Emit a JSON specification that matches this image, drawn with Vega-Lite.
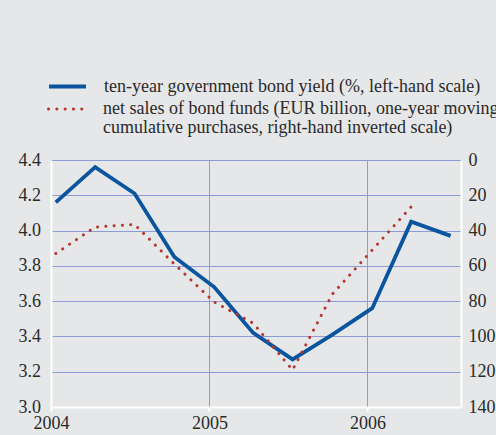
{
  "$schema": "https://vega.github.io/schema/vega-lite/v6.json",
  "width": 410,
  "height": 247,
  "autosize": {"type": "none"},
  "padding": {"left": 51, "top": 160, "right": 35, "bottom": 28},
  "background": "#e6e7e8",
  "config": {
    "view": {"stroke": null},
    "font": "Liberation Serif",
    "axis": {
      "labelFont": "Liberation Serif",
      "labelFontSize": 18,
      "labelColor": "#2a2a2a",
      "domainColor": "#ffffff",
      "domainWidth": 2,
      "gridColor": "#8d9bd6",
      "gridWidth": 1,
      "gridOpacity": 1,
      "ticks": false,
      "tickSize": 0,
      "title": null
    },
    "legend": {
      "labelFont": "Liberation Serif",
      "labelFontSize": 18,
      "labelColor": "#2a2a2a",
      "symbolType": "stroke",
      "symbolSize": 1369,
      "labelOffset": 16,
      "labelLimit": 1000,
      "title": null,
      "orient": "none"
    }
  },
  "data": {
    "values": [
      {"date": "2004-01-12", "yield": 4.16, "sales": 53},
      {"date": "2004-04-12", "yield": 4.36, "sales": 38},
      {"date": "2004-07-12", "yield": 4.21, "sales": 36.5},
      {"date": "2004-10-12", "yield": 3.85, "sales": 59},
      {"date": "2005-01-12", "yield": 3.68, "sales": 80.5},
      {"date": "2005-04-12", "yield": 3.42, "sales": 92.5},
      {"date": "2005-07-12", "yield": 3.27, "sales": 119},
      {"date": "2005-10-12", "yield": 3.41, "sales": 76},
      {"date": "2006-01-12", "yield": 3.56, "sales": 51},
      {"date": "2006-04-12", "yield": 4.05, "sales": 26.5},
      {"date": "2006-07-12", "yield": 3.97, "sales": null}
    ]
  },
  "encoding": {
    "x": {
      "field": "date",
      "type": "temporal",
      "scale": {"domain": ["2004-01-01", "2006-08-05"]},
      "axis": {
        "format": "%Y",
        "tickCount": {"interval": "year", "step": 1},
        "ticks": true,
        "tickColor": "#ffffff",
        "tickWidth": 2,
        "tickSize": 4,
        "labelPadding": 3,
        "labelFlush": false,
        "grid": true
      }
    }
  },
  "layer": [
    {
      "mark": {"type": "line", "strokeWidth": 3.8, "strokeJoin": "miter"},
      "encoding": {
        "y": {
          "field": "yield",
          "type": "quantitative",
          "scale": {"domain": [3.0, 4.4], "nice": false, "zero": false},
          "axis": {"orient": "left", "values": [3.0, 3.2, 3.4, 3.6, 3.8, 4.0, 4.2, 4.4], "format": ".1f", "grid": true, "labelAlign": "left", "labelPadding": 33}
        },
        "color": {
          "datum": "yield",
          "scale": {"domain": ["yield"], "range": ["#0a54a0"]},
          "legend": {
            "legendX": -4,
            "legendY": -94,
            "symbolStrokeWidth": 3.8,
            "labelExpr": "'ten-year government bond yield (%, left-hand scale)'"
          }
        }
      }
    },
    {
      "mark": {"type": "line", "strokeWidth": 3, "strokeCap": "round", "color": "#b5362e"},
      "encoding": {
        "y": {
          "field": "sales",
          "type": "quantitative",
          "scale": {"domain": [0, 140], "reverse": true, "nice": false},
          "axis": {"orient": "right", "values": [0, 20, 40, 60, 80, 100, 120, 140], "grid": false, "labelPadding": 7}
        },
        "strokeDash": {
          "datum": "sales",
          "scale": {"domain": ["sales"], "range": [[0.1, 8.2]]},
          "legend": {
            "legendX": -4,
            "legendY": -71,
            "symbolStrokeWidth": 3,
            "symbolStrokeColor": "#b5362e",
            "symbolDash": [0.1, 8.2],
            "labelExpr": "['net sales of bond funds (EUR billion, one-year moving', 'cumulative purchases, right-hand inverted scale)']",
            "encode": {
              "symbols": {"update": {"strokeCap": {"value": "round"}}},
              "labels": {"update": {"lineHeight": {"value": 18.5}}}
            }
          }
        }
      }
    }
  ],
  "resolve": {"scale": {"y": "independent"}}
}
